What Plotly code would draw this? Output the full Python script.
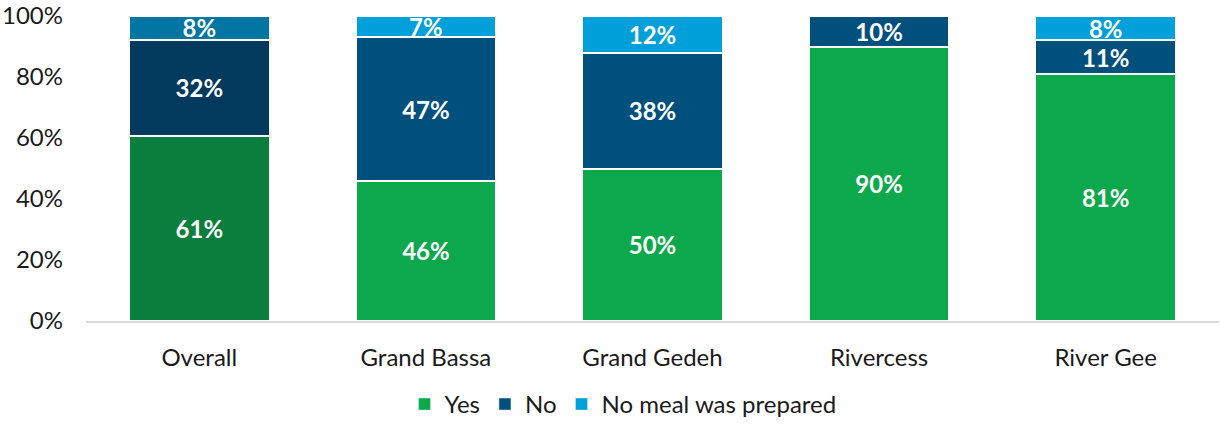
import plotly.graph_objects as go

categories = ["Overall", "Grand Bassa", "Grand Gedeh", "Rivercess", "River Gee"]
yes_vals = [60.6, 46, 50, 90, 81]
no_vals = [31.6, 47, 38, 10, 11]
nomeal_vals = [7.8, 7, 12, 0, 8]

yes_colors = ["#0a7e3c"] + ["#0ca84c"] * 4
no_colors = ["#013a5d"] + ["#00507e"] * 4
nomeal_colors = ["#0176a3"] + ["#01a0da"] * 4

FONT = "Lato, Open Sans, sans-serif"

def labels(vals):
    return [f"{round(v)}%" if v > 0 else "" for v in vals]

fig = go.Figure()
for name, vals, cols, legcol in [
    ("Yes", yes_vals, yes_colors, "#0ca84c"),
    ("No", no_vals, no_colors, "#00507e"),
    ("No meal was prepared", nomeal_vals, nomeal_colors, "#01a0da"),
]:
    fig.add_trace(go.Bar(
        x=categories, y=vals, name=name, showlegend=False,
        marker=dict(color=cols, line=dict(color="white", width=2)),
        text=labels(vals), textposition="inside", insidetextanchor="middle",
        textangle=0,
        textfont=dict(family=FONT, size=24, color="white", weight="bold"),
        constraintext="none",
    ))
    fig.add_trace(go.Bar(
        x=[None], y=[None], name=name, marker=dict(color=legcol), showlegend=True,
    ))

fig.update_layout(
    barmode="stack",
    bargap=0.38,
    width=1221, height=427,
    margin=dict(l=86, r=2, t=16, b=105),
    plot_bgcolor="white", paper_bgcolor="white",
    font=dict(family=FONT, size=24, color="#1a1a1a"),
    legend=dict(orientation="h", x=0.474, xanchor="center", y=-0.343, yanchor="bottom",
                font=dict(size=24), itemwidth=30, traceorder="normal"),
    uniformtext=dict(minsize=10, mode="show"),
)
fig.update_yaxes(range=[0, 100], tickvals=[0, 20, 40, 60, 80, 100],
                 ticktext=["0%", "20%", "40%", "60%", "80%", "100%"],
                 showgrid=False, zeroline=False, showline=False,
                 ticklabelstandoff=22, tickfont=dict(size=24),
                 ticklabeloverflow="allow", automargin=False)
fig.update_xaxes(showline=True, linecolor="#d9d9d9", linewidth=2,
                 ticks="", tickfont=dict(size=24), ticklabelstandoff=14,
                 automargin=False)

fig.write_html("out.html", config={"displayModeBar": False},
               post_script="document.body.style.margin='0';")
